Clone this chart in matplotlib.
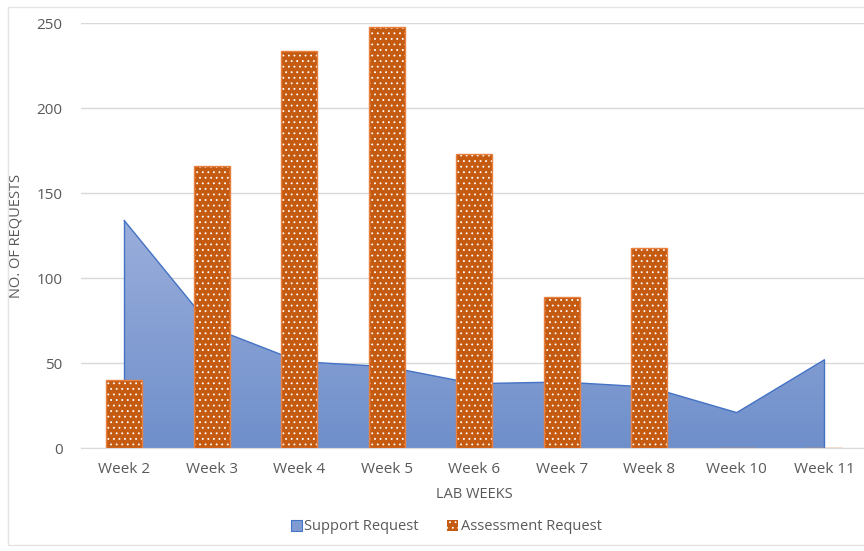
import numpy as np
import matplotlib
matplotlib.use("Agg")
import matplotlib.pyplot as plt
from matplotlib.colors import LinearSegmentedColormap
from matplotlib.patches import Patch, Rectangle

# data
weeks = ["Week 2", "Week 3", "Week 4", "Week 5", "Week 6", "Week 7", "Week 8", "Week 10", "Week 11"]
support = [134, 71, 51, 48, 38, 39, 36, 21, 52]
assessment = [40, 166, 234, 248, 173, 89, 118, 0, 0]

plt.rcParams['font.family'] = ['Open Sans', 'DejaVu Sans']
plt.rcParams['hatch.linewidth'] = 0.6

grey_txt = "#595959"
grid_col = "#D9D9D9"

fig = plt.figure(figsize=(8.64, 5.51), dpi=100)
ax = fig.add_axes([80.5 / 864, 1 - 448.3 / 551, 787.5 / 864, (448.3 - 23.3) / 551])

x = np.arange(len(weeks))

# area with vertical gradient
poly = ax.fill_between(x, support, 0, facecolor="none", edgecolor="none", zorder=2)
cmap = LinearSegmentedColormap.from_list("blu", ["#6F8FCB", "#9AAEDB"])
grad = np.linspace(0, 1, 256).reshape(-1, 1)
img = ax.imshow(grad, cmap=cmap, origin="lower", aspect="auto",
                extent=[x[0], x[-1], 0, max(support)], zorder=2)
img.set_clip_path(poly.get_paths()[0], transform=ax.transData)
ax.plot(x, support, color="#4472C4", lw=1.0, zorder=3)
ax.plot([x[0], x[0]], [0, support[0]], color="#4472C4", lw=1.0, zorder=3)
ax.plot([x[-1], x[-1]], [0, support[-1]], color="#4472C4", lw=1.0, zorder=3)

# dotted bars
ax.bar(x, assessment, width=0.41, color="#C55A11", edgecolor="#FFFFFF",
       hatch="...", linewidth=0, zorder=4)
ax.bar(x, assessment, width=0.41, fill=False, edgecolor="#E8803F",
       linewidth=1.0, zorder=5)

ax.set_xlim(-0.5, 8.5)
ax.set_ylim(0, 250)
ax.set_yticks([0, 50, 100, 150, 200, 250])
ax.set_xticks(x)
ax.set_xticklabels(weeks)
ax.yaxis.grid(True, color=grid_col, lw=1.0)
ax.set_axisbelow(True)
for s in ["top", "right", "left"]:
    ax.spines[s].set_visible(False)
ax.spines["bottom"].set_color(grid_col)
ax.tick_params(axis="both", length=0, labelsize=11, colors=grey_txt)
ax.tick_params(axis="y", pad=13)
ax.tick_params(axis="x", pad=10)

ax.set_xlabel("LAB WEEKS", fontsize=10.5, color=grey_txt, labelpad=7)
ax.set_ylabel("NO. OF REQUESTS", fontsize=10.5, color=grey_txt, labelpad=9)

handles = [Patch(facecolor="#7F9BD2", edgecolor="#4472C4", lw=0.8),
           Patch(facecolor="#C55A11", edgecolor="#FFFFFF", hatch="...", lw=0)]
fig.legend(handles, ["Support Request", "Assessment Request"], loc="center",
           bbox_to_anchor=(446 / 864, 1 - 527 / 551), ncol=2, frameon=False,
           fontsize=10.5, labelcolor=grey_txt, handlelength=0.75, handleheight=0.75,
           handletextpad=0.2, columnspacing=1.9)

# outer chart border
fig.patches.append(Rectangle((8 / 864, 6 / 551), 1.0, 1 - 13 / 551,
                             transform=fig.transFigure, fill=False,
                             edgecolor="#E4E4E4", lw=1.0))

fig.savefig("out.png", dpi=100)
